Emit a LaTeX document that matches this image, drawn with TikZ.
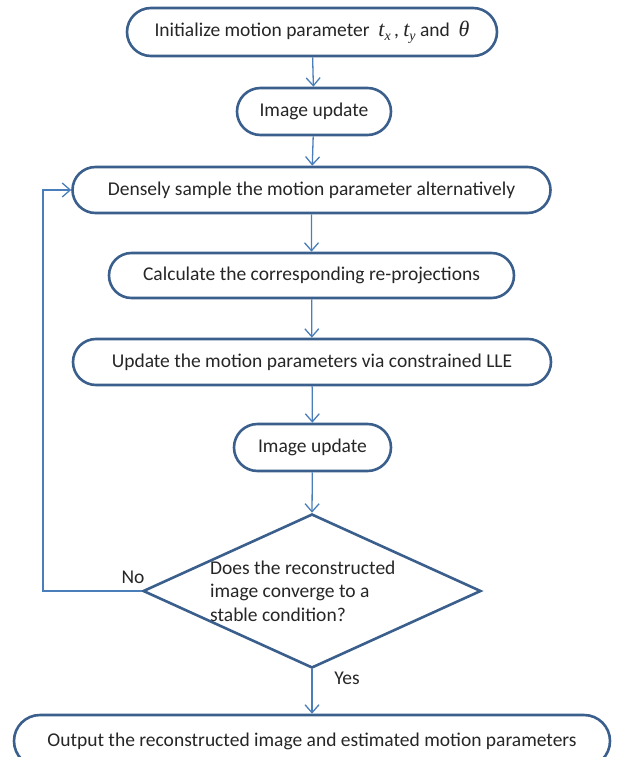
\documentclass[tikz,border=0pt]{standalone}
\usepackage{fontspec}
\setmainfont{Carlito}
\newfontfamily\tms{Liberation Serif}
\usetikzlibrary{shapes.misc,shapes.geometric,arrows.meta}
% italic serif variable with a lowered index
\newcommand\mvar[2]{{\tms\itshape\fontsize{22}{22}\selectfont #1}\raisebox{-0.4ex}{\tms\itshape\fontsize{14}{14}\selectfont #2}}
\definecolor{boxblue}{HTML}{3A5F8C}
\definecolor{lineblue}{HTML}{4A7EBB}
\begin{document}
\begin{tikzpicture}[x=1pt,y=-1pt,
  font=\fontsize{19.5}{23.5}\selectfont,
  term/.style={rounded rectangle, draw=boxblue, line width=2.6pt, fill=white,
    inner sep=0pt, text=black!85},
  decide/.style={diamond, draw=boxblue, line width=2.6pt, fill=white,
    inner sep=0pt, text=black!85},
  conn/.style={draw=lineblue, line width=1.3pt,
    -{Straight Barb[length=8pt,width=14pt,line width=1.3pt]}},
  lbl/.style={text=black!85, inner sep=0pt}]
\useasboundingbox (0,0) rectangle (616,757);

\node[term, minimum width=370, minimum height=48] (init) at (312,32)
  {Initialize motion parameter\ \ \mvar{t}{x}\,, \mvar{t}{y}\ and\ \ {\tms\itshape\fontsize{22}{22}\selectfont θ}};
\node[term, minimum width=154, minimum height=47] (img1) at (314,111.5) {Image update};
\node[term, minimum width=478, minimum height=46] (dense) at (311.5,190) {Densely sample the motion parameter alternatively};
\node[term, minimum width=405, minimum height=45] (calc) at (311.5,275.5) {Calculate the corresponding re-projections};
\node[term, minimum width=478, minimum height=46] (upd) at (312,362) {Update the motion parameters via constrained LLE};
\node[term, minimum width=157, minimum height=47] (img2) at (312.5,447.5) {Image update};
\node[decide, minimum width=338, minimum height=154] (dec) at (312,591) {};
\node[lbl, align=left, anchor=west] (q) at (210,591)
  {Does the reconstructed\\image converge to a\\stable condition?};
\node[term, minimum width=596, minimum height=52] (out) at (312,741)
  {Output the reconstructed image and estimated motion parameters};

\coordinate (fb) at (43,591);

\draw[conn] (init) -- (img1);
\draw[conn] (img1) -- (dense);
\draw[conn] (dense) -- (calc);
\draw[conn] (calc) -- (upd);
\draw[conn] (upd) -- (img2);
\draw[conn] (img2) -- (dec.north);
\draw[conn] (dec.south) -- (out.north);
\draw[conn] (dec.west) -- (fb) |- (dense.west);

\node[lbl] (no) at (133,577) {No};
\node[lbl] (yes) at (347,678) {Yes};
\end{tikzpicture}
\end{document}
